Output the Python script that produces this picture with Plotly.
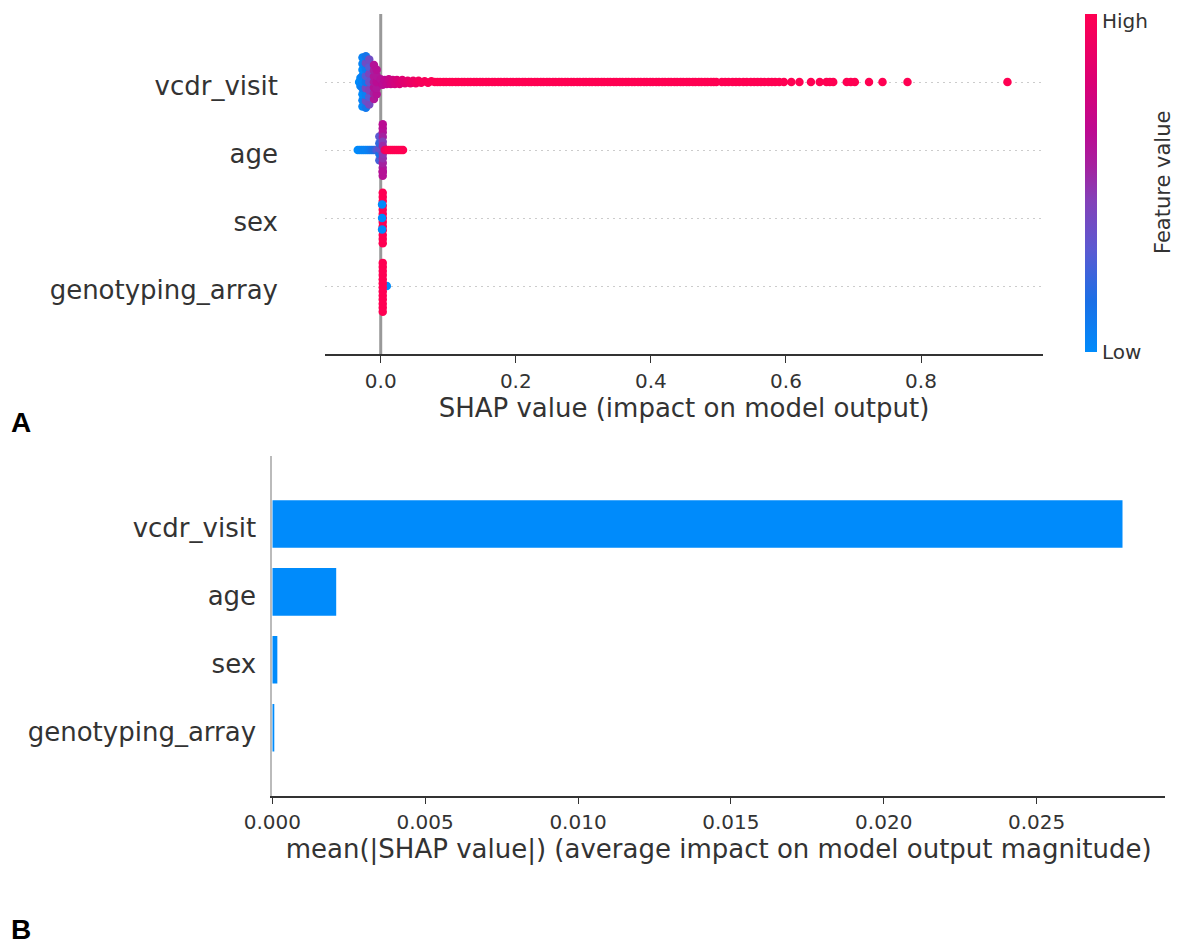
import plotly.graph_objects as go

# ---------------- data ----------------
FEATURES = ["vcdr_visit", "age", "sex", "genotyping_array"]
MEAN_ABS_SHAP = [0.02781, 0.00209, 0.000165, 0.00005]

# beeswarm points: SHAP value, vertical jitter (row units), normalised feature value
# vcdr_visit: cluster around zero (mixed feature values)
VCDR_SHAP = [
    -0.032, -0.030, -0.030,
    -0.027, -0.027, -0.027, -0.027, -0.027, -0.027, -0.027, -0.027, -0.027,
    -0.022, -0.022, -0.022, -0.022, -0.022, -0.022, -0.022, -0.022, -0.022,
    -0.017, -0.017, -0.017, -0.017, -0.017, -0.017, -0.017,
    -0.010, -0.010, -0.010, -0.010, -0.010, -0.010, -0.010,
    -0.006, -0.006, -0.006, -0.006, -0.006,
    0.000, 0.003, 0.006, 0.009, 0.012, 0.015, 0.018, 0.021, 0.024, 0.028,
    0.032, 0.036, 0.040, 0.044, 0.048, 0.052, 0.056, 0.060, 0.065, 0.070,
    0.075, 0.080,
]
VCDR_JITTER = [
    0.00, 0.06, -0.06,
    -0.36, -0.27, -0.18, -0.09, 0.00, 0.09, 0.18, 0.27, 0.36,
    -0.38, -0.28, -0.19, -0.09, 0.00, 0.09, 0.19, 0.28, 0.38,
    -0.33, -0.22, -0.12, 0.00, 0.12, 0.22, 0.33,
    -0.25, -0.17, -0.08, 0.00, 0.08, 0.17, 0.25,
    -0.18, -0.09, 0.00, 0.09, 0.18,
    0.04, -0.04, 0.03, -0.03, 0.04, -0.03, 0.03, -0.03, 0.03, -0.03,
    0.03, -0.02, 0.02, -0.02, 0.02, -0.02, 0.02, -0.01, 0.01, -0.01,
    0.01, 0.00,
]
VCDR_FEATURE = [
    0.00, 0.02, 0.03,
    0.02, 0.05, 0.00, 0.08, 0.03, 0.06, 0.00, 0.04, 0.05,
    0.10, 0.35, 0.05, 0.40, 0.10, 0.30, 0.08, 0.38, 0.12,
    0.40, 0.30, 0.45, 0.35, 0.42, 0.30, 0.38,
    0.60, 0.55, 0.62, 0.58, 0.60, 0.56, 0.62,
    0.62, 0.60, 0.64, 0.60, 0.63,
    0.62, 0.64, 0.66, 0.68, 0.70, 0.72, 0.74, 0.76, 0.78, 0.80,
    0.82, 0.84, 0.86, 0.88, 0.90, 0.92, 0.94, 0.95, 0.96, 0.97,
    0.98, 0.99,
]
# vcdr_visit: long right tail, all at the maximum feature value, on the row centre
VCDR_TAIL_SHAP = [
    0.084, 0.088, 0.093, 0.097, 0.102, 0.106, 0.111, 0.115, 0.120, 0.124,
    0.129, 0.133, 0.138, 0.142, 0.147, 0.151, 0.156, 0.160, 0.165, 0.169,
    0.174, 0.178, 0.183, 0.187, 0.192, 0.196, 0.201, 0.205, 0.210, 0.214,
    0.219, 0.223, 0.228, 0.232, 0.237, 0.241, 0.246, 0.250, 0.255, 0.259,
    0.264, 0.268, 0.273, 0.277, 0.282, 0.286, 0.291, 0.295, 0.300, 0.304,
    0.309, 0.313, 0.318, 0.322, 0.327, 0.331, 0.336, 0.340, 0.345, 0.349,
    0.354, 0.358, 0.363, 0.367, 0.372, 0.376, 0.381, 0.385, 0.390, 0.394,
    0.399, 0.403, 0.408, 0.412, 0.417, 0.421, 0.426, 0.430, 0.435, 0.439,
    0.444, 0.448, 0.453, 0.457, 0.462, 0.466, 0.471, 0.475, 0.480, 0.484,
    0.489, 0.493, 0.497,
    0.505, 0.510, 0.515, 0.521, 0.526, 0.531, 0.537, 0.542, 0.548, 0.553,
    0.558, 0.563, 0.568, 0.574, 0.579, 0.584, 0.590, 0.597, 0.608, 0.620,
    0.637, 0.650, 0.660, 0.665, 0.670, 0.690, 0.696, 0.702, 0.723, 0.743,
    0.780, 0.928,
]
VCDR_TAIL_FEATURE = 1.0
VCDR_TAIL_JITTER = 0.0

AGE_SHAP = [
    -0.034, -0.031, -0.028, -0.025, -0.022, -0.019, -0.016, -0.013, -0.010, -0.007, -0.005,
    -0.002, -0.002, -0.002, -0.002, -0.002,
    0.003, 0.003, 0.003, 0.003, 0.003, 0.003, 0.003, 0.003, 0.003, 0.003, 0.003, 0.003, 0.003,
    0.006, 0.009, 0.012, 0.015, 0.018, 0.021, 0.024, 0.027, 0.030, 0.033,
]
AGE_JITTER = [
    0, 0, 0, 0, 0, 0, 0, 0, 0, 0, 0,
    -0.15, -0.06, 0.02, 0.10, 0.20,
    -0.38, -0.32, -0.26, -0.19, -0.32, 0.26, 0.32, 0.38, 0.19, -0.12, 0.12, 0.06, -0.06,
    0, 0, 0, 0, 0, 0, 0, 0, 0, 0,
]
AGE_FEATURE = [
    0.00, 0.01, 0.02, 0.05, 0.04, 0.06, 0.08, 0.12, 0.16, 0.22, 0.28,
    0.25, 0.15, 0.35, 0.20, 0.30,
    0.62, 0.60, 0.58, 0.55, 0.62, 0.60, 0.62, 0.64, 0.55, 0.50, 0.45, 0.52, 0.48,
    0.90, 0.95, 1.0, 1.0, 1.0, 1.0, 1.0, 1.0, 1.0, 1.0,
]

SEX_SHAP = [
    0.003, 0.003, 0.003, 0.003, 0.003, 0.003, 0.003, 0.003, 0.003, 0.003, 0.003, 0.003, 0.003,
    0.002, 0.002, 0.002,
]
SEX_JITTER = [
    -0.37, -0.31, -0.25, -0.18, -0.12, -0.06, 0.00, 0.06, 0.12, 0.18, 0.25, 0.31, 0.37,
    0.20, 0.00, -0.17,
]
SEX_FEATURE = [
    1, 1, 1, 1, 1, 1, 1, 1, 1, 1, 1, 1, 1,
    0, 0, 0,
]

GENO_SHAP = [
    0.009,
    0.003, 0.003, 0.003, 0.003, 0.003, 0.003, 0.003, 0.003, 0.003, 0.003, 0.003, 0.003, 0.003,
]
GENO_JITTER = [
    0.00,
    0.34, 0.28, 0.22, 0.16, 0.10, 0.04, -0.02, -0.08, -0.14, -0.20, -0.26, -0.32, -0.38,
]
GENO_FEATURE = [
    0,
    1, 1, 1, 1, 1, 1, 1, 1, 1, 1, 1, 1, 1,
]

X_TICKS_A = [0.0, 0.2, 0.4, 0.6, 0.8]
X_TICKS_B = [0.0, 0.005, 0.010, 0.015, 0.020, 0.025]
COLORBAR_LABELS = ["Low", "High"]

# ---------------- styling ----------------
W, H = 1180, 947
OFF = 8  # page body margin of the browser
FONT = "DejaVu Sans"
AX = "#333333"
BLUE = "#008bfb"
RED_BLUE = [
    [0.00, "#008bfb"], [0.15, "#1a6fe6"], [0.30, "#5a5ad2"], [0.45, "#8440b8"],
    [0.55, "#a5219f"], [0.65, "#bc0a92"], [0.80, "#db0074"], [1.00, "#ff0052"],
]
MARKER_PX = 8.5


def px_x(p):
    return (p - OFF) / W


def px_y(p):
    return 1 - (p - OFF) / H


fig = go.Figure()

n = len(FEATURES)
rows = {f: n - 1 - i for i, f in enumerate(FEATURES)}

swarm = [
    ("vcdr_visit", VCDR_SHAP, VCDR_JITTER, VCDR_FEATURE),
    ("vcdr_visit", VCDR_TAIL_SHAP, [VCDR_TAIL_JITTER] * len(VCDR_TAIL_SHAP),
     [VCDR_TAIL_FEATURE] * len(VCDR_TAIL_SHAP)),
    ("age", AGE_SHAP, AGE_JITTER, AGE_FEATURE),
    ("sex", SEX_SHAP, SEX_JITTER, SEX_FEATURE),
    ("genotyping_array", GENO_SHAP, GENO_JITTER, GENO_FEATURE),
]
for k, (name, xs, js, fv) in enumerate(swarm):
    r = rows[name]
    marker = dict(
        size=MARKER_PX, color=fv, colorscale=RED_BLUE, cmin=0, cmax=1,
        line=dict(width=0),
    )
    if k == 0:
        marker.update(
            showscale=True,
            colorbar=dict(
                x=px_x(1085), xanchor="left", y=px_y(14), yanchor="top",
                len=(352 - 14) / H, lenmode="fraction",
                thickness=12, thicknessmode="pixels",
                outlinewidth=0, xpad=0, ypad=0,
                showticklabels=False, ticks="",
            ),
        )
    fig.add_trace(go.Scatter(
        x=xs, y=[r + j for j in js], mode="markers", marker=marker,
        xaxis="x", yaxis="y", showlegend=False, hoverinfo="skip",
    ))

fig.add_trace(go.Bar(
    x=MEAN_ABS_SHAP, y=[rows[f] for f in FEATURES], orientation="h",
    width=0.7, marker=dict(color=BLUE, line=dict(width=0)),
    xaxis="x2", yaxis="y2", showlegend=False,
))

annotations = [
    dict(text="Feature value", textangle=-90, x=px_x(1163), y=px_y(183),
         xref="paper", yref="paper", xanchor="center", yanchor="middle",
         showarrow=False, font=dict(family=FONT, size=21, color=AX)),
    dict(text="<b>A</b>", x=px_x(9), y=px_y(422), xref="paper", yref="paper",
         xanchor="left", yanchor="middle", showarrow=False,
         font=dict(family="Liberation Sans", size=28, color="black")),
    dict(text="<b>B</b>", x=px_x(9), y=px_y(929), xref="paper", yref="paper",
         xanchor="left", yanchor="middle", showarrow=False,
         font=dict(family="Liberation Sans", size=28, color="black")),
]
for lab, ypx in zip(COLORBAR_LABELS, [352, 21]):
    annotations.append(dict(
        text=lab, x=px_x(1101), y=px_y(ypx), xref="paper", yref="paper",
        xanchor="left", yanchor="middle", showarrow=False, borderpad=0,
        font=dict(family=FONT, size=20, color=AX),
    ))

fig.update_layout(
    width=W, height=H,
    margin=dict(l=0, r=0, t=0, b=0, autoexpand=False),
    paper_bgcolor="white", plot_bgcolor="white",
    font=dict(family=FONT, color=AX),
    xaxis=dict(
        domain=[px_x(325), px_x(1043)], range=[-0.0825, 0.9806],
        tickvals=X_TICKS_A, ticktext=[f"{v:.1f}" for v in X_TICKS_A],
        ticks="outside", ticklen=7, tickcolor=AX, tickwidth=1,
        ticklabelstandoff=1,
        showline=True, linecolor=AX, linewidth=1.5,
        showgrid=False, zeroline=False, anchor="y", automargin=False,
        tickfont=dict(size=20, color=AX),
        title=dict(text="SHAP value (impact on model output)",
                   font=dict(size=26, color=AX), standoff=2),
    ),
    yaxis=dict(
        domain=[px_y(354), px_y(14)], range=[-1, 4],
        tickvals=[rows[f] for f in FEATURES], ticktext=FEATURES,
        ticks="", ticklabelstandoff=46, ticklabelshift=4, automargin=False,
        showline=False, zeroline=False,
        showgrid=True, gridcolor="#cccccc", gridwidth=1, griddash="2px,4px",
        tickfont=dict(size=26, color=AX), anchor="x",
    ),
    xaxis2=dict(
        domain=[px_x(272.3), px_x(1165)], range=[0, 0.0292],
        tickvals=X_TICKS_B, ticktext=[f"{v:.3f}" for v in X_TICKS_B],
        ticks="outside", ticklen=7, tickcolor=AX, tickwidth=1,
        ticklabelstandoff=1,
        showline=True, linecolor=AX, linewidth=1.5,
        showgrid=False, zeroline=False, anchor="y2", automargin=False,
        tickfont=dict(size=20, color=AX),
        title=dict(text="mean(|SHAP value|) (average impact on model output magnitude)",
                   font=dict(size=26, color=AX), standoff=2),
    ),
    yaxis2=dict(
        domain=[px_y(795.7), px_y(456)], range=[-1, 4],
        tickvals=[rows[f] for f in FEATURES], ticktext=FEATURES,
        ticks="", ticklabelstandoff=9, ticklabelshift=4, automargin=False,
        showline=True, linecolor="#bbbbbb", linewidth=2,
        showgrid=False, zeroline=False,
        tickfont=dict(size=26, color=AX), anchor="x2",
    ),
    shapes=[
        dict(type="line", xref="x", yref="y domain", x0=0, x1=0, y0=0, y1=1,
             line=dict(color="#999999", width=3), layer="below"),
    ],
    annotations=annotations,
)

fig.write_html("out.html")
